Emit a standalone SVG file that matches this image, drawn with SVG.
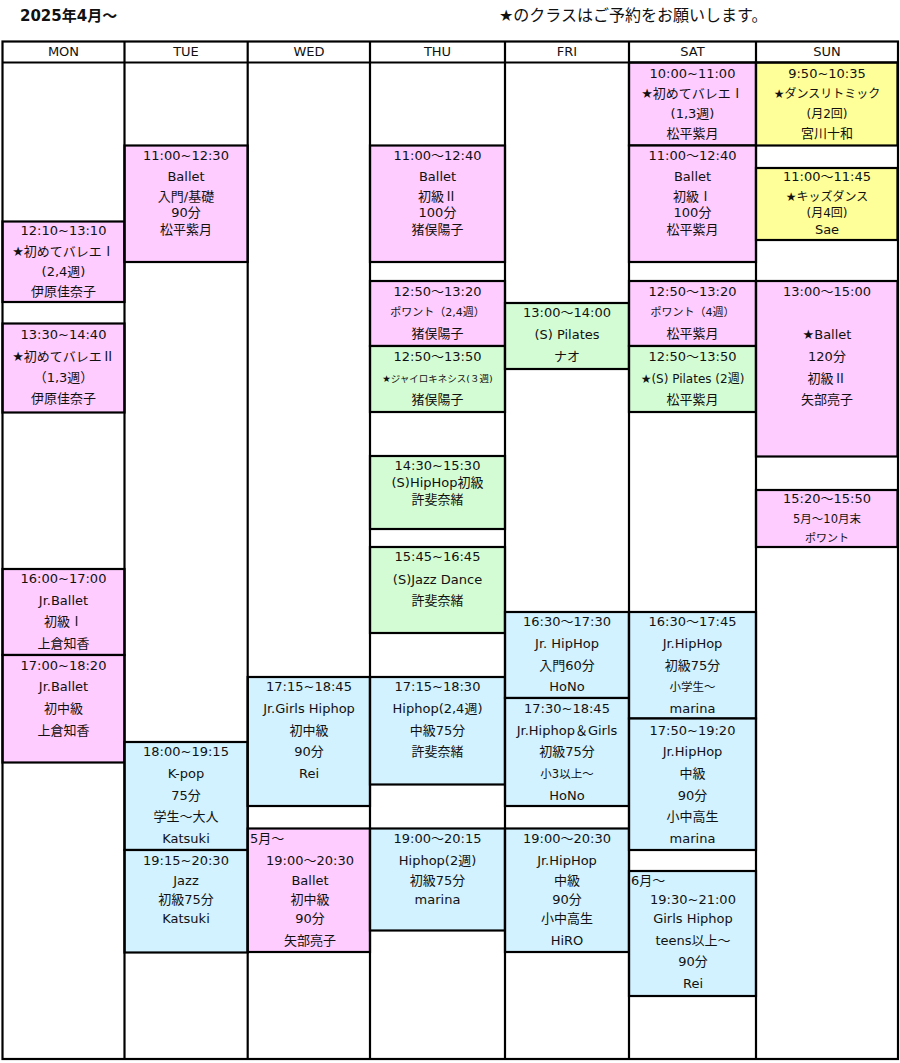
<svg xmlns="http://www.w3.org/2000/svg" width="900" height="1063" viewBox="0 0 900 1063">
<style>
text{font-family:"DejaVu Sans","Noto Sans CJK JP",sans-serif;font-size:13px;fill:#111;text-anchor:middle}
.j{font-family:"Noto Sans CJK JP",sans-serif}
.s12{font-size:12px}.s115{font-size:11.5px}.s11{font-size:11px}.s95{font-size:9.5px}
.l{text-anchor:start}
.pk{fill:#FFCCFF}.yl{fill:#FFFF99}.gr{fill:#D4FCD4}.bl{fill:#D2F2FF}
.cell{stroke:#000;stroke-width:2.2}
.ln{stroke:#000;stroke-width:2.2;fill:none}
.title{font-weight:bold;font-size:15px;text-anchor:start}
.note{font-size:16px;text-anchor:start}
</style>
<rect width="900" height="1063" fill="#fff"/>
<text class="title" x="20" y="20.5">2025年4月～</text>
<text class="note" x="499" y="21">★のクラスはご予約をお願いします。</text>

<g id="header">
<text x="63.5" y="56.4">MON</text>
<text x="186" y="56.4">TUE</text>
<text x="309" y="56.4">WED</text>
<text x="437.5" y="56.4">THU</text>
<text x="567" y="56.4">FRI</text>
<text x="692.5" y="56.4">SAT</text>
<text x="827" y="56.4">SUN</text>
</g>

<!-- MON -->
<g id="mon-1210">
<rect class="cell pk" x="2.5" y="221.5" width="122" height="80.5"/>
<text x="63.5" y="234.7">12:10~13:10</text>
<text x="63.5" y="255.7">★初めてバレエ<tspan class="j">Ⅰ</tspan></text>
<text x="63.5" y="275.7">(2,4週)</text>
<text x="63.5" y="295.7">伊原佳奈子</text>
</g>
<g id="mon-1330">
<rect class="cell pk" x="2.5" y="323.5" width="122" height="89"/>
<text x="63.5" y="339">13:30~14:40</text>
<text x="63.5" y="361.4">★初めてバレエ<tspan class="j">Ⅱ</tspan></text>
<text x="63.5" y="382.4">（1,3週）</text>
<text x="63.5" y="403">伊原佳奈子</text>
</g>
<g id="mon-1600">
<rect class="cell pk" x="2.5" y="569" width="122" height="86"/>
<text x="63.5" y="583">16:00~17:00</text>
<text x="63.5" y="604.7">Jr.Ballet</text>
<text x="63.5" y="626.4">初級<tspan class="j">Ⅰ</tspan></text>
<text x="63.5" y="648">上倉知香</text>
</g>
<g id="mon-1700">
<rect class="cell pk" x="2.5" y="655" width="122" height="107.5"/>
<text x="63.5" y="669.7">17:00~18:20</text>
<text x="63.5" y="691.4">Jr.Ballet</text>
<text x="63.5" y="713">初中級</text>
<text x="63.5" y="734.7">上倉知香</text>
</g>

<!-- TUE -->
<g id="tue-1100">
<rect class="cell pk" x="124.5" y="145.5" width="123.2" height="116.5"/>
<text x="186" y="160.4">11:00~12:30</text>
<text x="186" y="181.4">Ballet</text>
<text x="186" y="201.4">入門/基礎</text>
<text x="186" y="217.4">90分</text>
<text x="186" y="234">松平紫月</text>
</g>
<g id="tue-1800">
<rect class="cell bl" x="124.5" y="742" width="123.2" height="108"/>
<text x="186" y="756.4">18:00~19:15</text>
<text x="186" y="778">K-pop</text>
<text x="186" y="799.7">75分</text>
<text x="186" y="821.4">学生～大人</text>
<text x="186" y="843">Katsuki</text>
</g>
<g id="tue-1915">
<rect class="cell bl" x="124.5" y="850" width="123.2" height="102.5"/>
<text x="186" y="864.7">19:15~20:30</text>
<text x="186" y="884.7">Jazz</text>
<text x="186" y="904">初級75分</text>
<text x="186" y="923">Katsuki</text>
</g>

<!-- WED -->
<g id="wed-1715">
<rect class="cell bl" x="247.7" y="677" width="122.3" height="129"/>
<text x="309" y="691.4">17:15~18:45</text>
<text x="309" y="713">Jr.Girls Hiphop</text>
<text x="309" y="734.7">初中級</text>
<text x="309" y="756.4">90分</text>
<text x="309" y="778">Rei</text>
</g>
<g id="wed-1900">
<rect class="cell pk" x="247.7" y="828.5" width="122.3" height="123.5"/>
<text class="l" x="250" y="843">5月～</text>
<text x="310" y="864.7">19:00～20:30</text>
<text x="310" y="884.7">Ballet</text>
<text x="310" y="904">初中級</text>
<text x="310" y="923">90分</text>
<text x="310" y="944.7">矢部亮子</text>
</g>

<!-- THU -->
<g id="thu-1100">
<rect class="cell pk" x="370" y="145.5" width="135" height="116.5"/>
<text x="437.5" y="160.4">11:00～12:40</text>
<text x="437.5" y="181.4">Ballet</text>
<text x="437.5" y="201.4">初級<tspan class="j">Ⅱ</tspan></text>
<text x="437.5" y="217.4">100分</text>
<text x="437.5" y="234">猪俣陽子</text>
</g>
<g id="thu-1250a">
<rect class="cell pk" x="370" y="281" width="135" height="65"/>
<text x="437.5" y="295.7">12:50～13:20</text>
<text class="s11" x="437.5" y="316.3">ポワント（2,4週）</text>
<text x="437.5" y="338">猪俣陽子</text>
</g>
<g id="thu-1250b">
<rect class="cell gr" x="370" y="346" width="135" height="66"/>
<text x="437.5" y="361.4">12:50～13:50</text>
<text class="s95" x="437.5" y="381.7">★ジャイロキネシス(３週)</text>
<text x="437.5" y="404">猪俣陽子</text>
</g>
<g id="thu-1430">
<rect class="cell gr" x="370" y="456" width="135" height="73"/>
<text x="437.5" y="469.7">14:30~15:30</text>
<text x="437.5" y="487.4">(S)HipHop初級</text>
<text x="437.5" y="504">許斐奈緒</text>
</g>
<g id="thu-1545">
<rect class="cell gr" x="370" y="547" width="135" height="86"/>
<text x="437.5" y="561.4">15:45~16:45</text>
<text x="437.5" y="583.7">(S)Jazz Dance</text>
<text x="437.5" y="604.7">許斐奈緒</text>
</g>
<g id="thu-1715">
<rect class="cell bl" x="370" y="677" width="135" height="107.5"/>
<text x="437.5" y="691.4">17:15~18:30</text>
<text x="437.5" y="713">Hiphop(2,4週)</text>
<text x="437.5" y="734.7">中級75分</text>
<text x="437.5" y="756.4">許斐奈緒</text>
</g>
<g id="thu-1900">
<rect class="cell bl" x="370" y="828.5" width="135" height="102"/>
<text x="437.5" y="843">19:00～20:15</text>
<text x="437.5" y="864.7">Hiphop(2週)</text>
<text x="437.5" y="884.7">初級75分</text>
<text x="437.5" y="904">marina</text>
</g>

<!-- FRI -->
<g id="fri-1300">
<rect class="cell gr" x="505" y="303" width="124" height="66"/>
<text x="567" y="317">13:00～14:00</text>
<text x="567" y="338.7">(S) Pilates</text>
<text x="567" y="361.4">ナオ</text>
</g>
<g id="fri-1630">
<rect class="cell bl" x="505" y="612" width="124" height="86"/>
<text x="567" y="626.4">16:30～17:30</text>
<text x="567" y="648">Jr. HipHop</text>
<text x="567" y="669.7">入門60分</text>
<text x="567" y="691.4">HoNo</text>
</g>
<g id="fri-1730">
<rect class="cell bl" x="505" y="698" width="124" height="108"/>
<text x="567" y="713">17:30~18:45</text>
<text x="567" y="734.7">Jr.Hiphop＆Girls</text>
<text x="567" y="756.4">初級75分</text>
<text class="s115" x="567" y="777.5">小3以上～</text>
<text x="567" y="799.7">HoNo</text>
</g>
<g id="fri-1900">
<rect class="cell bl" x="505" y="828.5" width="124" height="123.5"/>
<text x="567" y="843">19:00～20:30</text>
<text x="567" y="864.7">Jr.HipHop</text>
<text x="567" y="884.7">中級</text>
<text x="567" y="904">90分</text>
<text x="567" y="923">小中高生</text>
<text x="567" y="944.7">HiRO</text>
</g>

<!-- SAT -->
<g id="sat-1000">
<rect class="cell pk" x="629" y="62.5" width="127" height="83"/>
<text x="692.5" y="78">10:00~11:00</text>
<text x="692.5" y="98">★初めてバレエ<tspan class="j">Ⅰ</tspan></text>
<text x="692.5" y="118">(1,3週)</text>
<text x="692.5" y="138">松平紫月</text>
</g>
<g id="sat-1100">
<rect class="cell pk" x="629" y="145.5" width="127" height="116.5"/>
<text x="692.5" y="160.4">11:00～12:40</text>
<text x="692.5" y="181.4">Ballet</text>
<text x="692.5" y="201.4">初級<tspan class="j">Ⅰ</tspan></text>
<text x="692.5" y="217.4">100分</text>
<text x="692.5" y="234">松平紫月</text>
</g>
<g id="sat-1250a">
<rect class="cell pk" x="629" y="281" width="127" height="65"/>
<text x="692.5" y="295.7">12:50～13:20</text>
<text class="s11" x="692.5" y="316.3">ポワント（4週）</text>
<text x="692.5" y="338">松平紫月</text>
</g>
<g id="sat-1250b">
<rect class="cell gr" x="629" y="346" width="127" height="66"/>
<text x="692.5" y="361.4">12:50～13:50</text>
<text class="s12" x="692.5" y="382.6">★(S) Pilates (2週)</text>
<text x="692.5" y="404">松平紫月</text>
</g>
<g id="sat-1630">
<rect class="cell bl" x="629" y="612" width="127" height="106.5"/>
<text x="692.5" y="626.4">16:30～17:45</text>
<text x="692.5" y="648">Jr.HipHop</text>
<text x="692.5" y="669.7">初級75分</text>
<text class="s115" x="692.5" y="690.9">小学生～</text>
<text x="692.5" y="713">marina</text>
</g>
<g id="sat-1750">
<rect class="cell bl" x="629" y="718.5" width="127" height="131.5"/>
<text x="692.5" y="734.7">17:50~19:20</text>
<text x="692.5" y="756.4">Jr.HipHop</text>
<text x="692.5" y="778">中級</text>
<text x="692.5" y="799.7">90分</text>
<text x="692.5" y="821.4">小中高生</text>
<text x="692.5" y="843">marina</text>
</g>
<g id="sat-1930">
<rect class="cell bl" x="629" y="871" width="127" height="125"/>
<text class="l" x="631" y="884.7">6月～</text>
<text x="693" y="904">19:30~21:00</text>
<text x="693" y="923">Girls Hiphop</text>
<text x="693" y="944.7">teens以上～</text>
<text x="693" y="966.4">90分</text>
<text x="693" y="988">Rei</text>
</g>

<!-- SUN -->
<g id="sun-0950">
<rect class="cell yl" x="756" y="62.5" width="141.5" height="83"/>
<text x="827" y="78">9:50~10:35</text>
<text class="s12" x="827" y="97.6">★ダンスリトミック</text>
<text class="s12" x="827" y="117.6">(月2回)</text>
<text x="827" y="138">宮川十和</text>
</g>
<g id="sun-1100">
<rect class="cell yl" x="756" y="168" width="141.5" height="72"/>
<text x="827" y="181.4">11:00～11:45</text>
<text class="s12" x="827" y="201">★キッズダンス</text>
<text class="s12" x="827" y="217">(月4回)</text>
<text x="827" y="234">Sae</text>
</g>
<g id="sun-1300">
<rect class="cell pk" x="756" y="281" width="141.5" height="175.5"/>
<text x="827" y="295.7">13:00～15:00</text>
<text x="827" y="338.7">★Ballet</text>
<text x="827" y="361.4">120分</text>
<text x="827" y="383">初級<tspan class="j">Ⅱ</tspan></text>
<text x="827" y="404">矢部亮子</text>
</g>
<g id="sun-1520">
<rect class="cell pk" x="756" y="490" width="141.5" height="57"/>
<text x="827" y="503">15:20～15:50</text>
<text class="s115" x="827" y="522.5">5月～10月末</text>
<text class="s11" x="827" y="541.7">ポワント</text>
</g>

<g id="grid">
<rect class="ln" x="2.5" y="41.5" width="895.5" height="1017.5"/>
<line class="ln" x1="2.5" y1="62.5" x2="898" y2="62.5"/>
<line class="ln" x1="124.5" y1="41.5" x2="124.5" y2="1059"/>
<line class="ln" x1="247.7" y1="41.5" x2="247.7" y2="1059"/>
<line class="ln" x1="370" y1="41.5" x2="370" y2="1059"/>
<line class="ln" x1="505" y1="41.5" x2="505" y2="1059"/>
<line class="ln" x1="629" y1="41.5" x2="629" y2="1059"/>
<line class="ln" x1="756" y1="41.5" x2="756" y2="1059"/>
</g>
</svg>
